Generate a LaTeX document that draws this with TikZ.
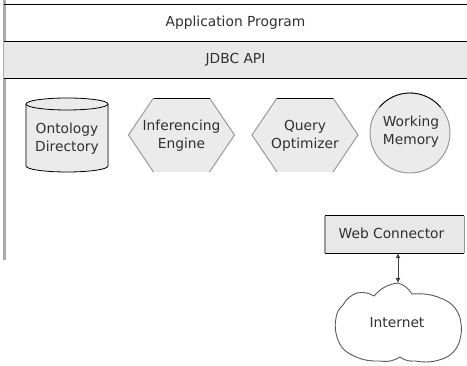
\documentclass[tikz,border=0pt]{standalone}
\usepackage{fontspec}
\setmainfont{DejaVu Sans}
\usetikzlibrary{arrows.meta}
\definecolor{shapefill}{HTML}{EBEBEB}
\definecolor{bandfill}{HTML}{E8E8E8}
\definecolor{edgegray}{HTML}{9A9A9A}
\definecolor{bargray}{HTML}{ABABAB}
\definecolor{txt}{HTML}{303030}
\tikzset{
  lbl/.style={inner sep=0pt, align=center, text=txt, font=\fontsize{13.8}{18}\selectfont},
  band/.style={lbl, minimum width=463pt, anchor=center},
  rule/.style={black, line width=0.8pt},
  hexpic/.pic={
    \fill[shapefill] (-53,0) -- (-28,37) -- (28,37) -- (53,0) -- (28,-37) -- (-28,-37) -- cycle;
    \draw[edgegray, line width=1pt] (-28,-37) -- (-53,0) -- (-28,37);
    \draw[edgegray, line width=1pt] (28,-37) -- (53,0) -- (28,37);
    \draw[black, line width=0.8pt] (-28,37) -- (28,37);
  }
}
\begin{document}
\begin{tikzpicture}[x=1pt,y=1pt]
\useasboundingbox (0,0) rectangle (467,366);
\fill[white] (0,0) rectangle (467,366);
% left bar
\draw[bargray, line width=3pt] (4.5,366) -- (4.5,106);
% bands
\node[band, minimum height=36pt] (app) at (235.5,343) {Application Program};
\fill[bandfill] (app.south west) rectangle (467,288);
\node[band, minimum height=37pt] (jdbc) at (235.5,306.5) {JDBC API};
\draw[rule] (app.north west) -- (app.north east);
\draw[rule] (app.south west) -- (app.south east);
\draw[rule] (jdbc.south west) -- (jdbc.south east);
% cylinder
\fill[shapefill] (26,262) -- (26,200) arc[start angle=180, end angle=360, x radius=41, y radius=6] -- (108,262) arc[start angle=0, end angle=180, x radius=41, y radius=6] -- cycle;
\draw[edgegray, line width=2pt] (26,262) -- (26,200);
\draw[edgegray, line width=2pt] (108,262) -- (108,200);
\draw[black, line width=0.8pt] (26,200) arc[start angle=180, end angle=360, x radius=41, y radius=6];
\draw[black, line width=0.8pt] (67,262) ellipse[x radius=41, y radius=6];
\node[lbl] (onto) at (67,227) {Ontology\\Directory};
% hexagons
\pic at (181.5,231) {hexpic};
\node[lbl] (infer) at (181.5,230.5) {Inferencing\\Engine};
\pic at (305,231) {hexpic};
\node[lbl] (query) at (305,230.5) {Query\\Optimizer};
% circle
\fill[shapefill] (410,233) circle[radius=40];
\draw[edgegray, line width=1pt] (410,233) circle[radius=40];
\draw[black, line width=0.8pt] ([shift={(40:40)}]410,233) arc[start angle=40, end angle=140, radius=40];
\node[lbl] (wm) at (411,234.5) {Working\\Memory};
% web connector
\node[lbl, minimum width=139pt, minimum height=37pt, fill=bandfill] (wc) at (394.5,131.5) {};
\node[lbl] (wct) at (391.5,132.5) {Web Connector};
\draw[rule] (wc.north west) -- (wc.north east);
\draw[rule] (wc.south west) -- (wc.south east);
\draw[edgegray, line width=2.5pt] (wc.north west) -- (wc.south west);
\draw[edgegray, line width=1pt] (wc.north east) -- (wc.south east);
% cloud
\coordinate (ctop) at (398,83);
\draw[black!65, line width=0.9pt, fill=white]
  (ctop) to[bend left=20] (412,72) to[bend left=15] (447,65) to[bend left=20] (460,48)
  to[bend left=15] (459,23) to[bend left=20] (445,8) to[bend left=15] (415,5)
  to[bend left=20] (400,9) to[bend left=20] (380,5) to[bend left=15] (350,12)
  to[bend left=20] (338,26) to[bend left=15] (336,48) to[bend left=20] (343,61)
  to[bend left=20] (357,73) to[bend left=20] (374,70) to[bend left=20] (ctop);
\node[lbl] (inet) at (397,43) {Internet};
% arrow
\draw[black!75, line width=0.8pt, {Latex[length=5pt,width=5pt]}-{Latex[length=5pt,width=5pt]}]
  (wc.south -| ctop) -- (ctop);
\end{tikzpicture}
\end{document}
